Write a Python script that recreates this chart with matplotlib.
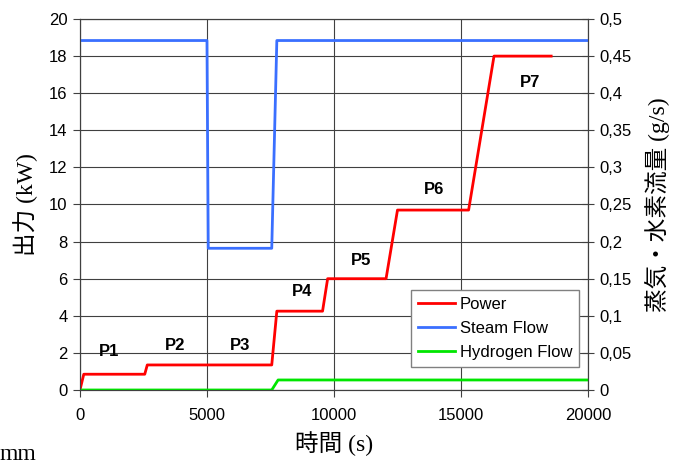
import numpy as np
import matplotlib
matplotlib.use("Agg")
import matplotlib.pyplot as plt

plt.rcParams["font.family"] = ["Liberation Sans", "Noto Sans CJK JP"]

# power (kW)
power_t = [0, 150, 2550, 2650, 7550, 7750, 9550, 9750, 12050, 12500, 15300, 16300, 18550]
power_kw = [0, 0.85, 0.85, 1.35, 1.35, 4.25, 4.25, 6.0, 6.0, 9.7, 9.7, 18.0, 18.0]

# steam flow (g/s)
steam_t = [0, 5000, 5050, 7550, 7750, 20000]
steam_gs = [0.471, 0.471, 0.191, 0.191, 0.471, 0.471]

# hydrogen flow (g/s)
h2_t = [0, 7550, 7800, 20000]
h2_gs = [0.0, 0.0, 0.0135, 0.0135]

phase_labels = ["P1", "P2", "P3", "P4", "P5", "P6", "P7"]
phase_x = [1150, 3750, 6300, 8750, 11050, 13950, 17700]
phase_y = [2.1, 2.4, 2.4, 5.3, 7.0, 10.8, 16.6]

right_ticks = [0, 0.05, 0.1, 0.15, 0.2, 0.25, 0.3, 0.35, 0.4, 0.45, 0.5]
right_ticklabels = ["0", "0,05", "0,1", "0,15", "0,2", "0,25", "0,3", "0,35", "0,4", "0,45", "0,5"]

fig = plt.figure(figsize=(6.8, 4.67), dpi=100)
ax = fig.add_axes([0.1176, 0.1649, 0.7471, 0.7944])
ax2 = ax.twinx()

ax.set_xlim(0, 20000)
ax.set_ylim(0, 20)
ax2.set_ylim(0, 0.5)
ax.set_xticks(np.arange(0, 20001, 5000))
ax.set_yticks(np.arange(0, 21, 2))
ax2.set_yticks(right_ticks)
ax2.set_yticklabels(right_ticklabels)

ax.grid(True, color="#404040", linewidth=0.8)
ax.set_axisbelow(True)

l1, = ax2.plot(np.array(power_t), np.array(power_kw) / 40.0, color="#ff0000", lw=2, label="Power")
l2, = ax2.plot(steam_t, steam_gs, color="#3a6fff", lw=2, label="Steam Flow")
l3, = ax2.plot(h2_t, h2_gs, color="#00e600", lw=2, label="Hydrogen Flow")

for lab, x, y in zip(phase_labels, phase_x, phase_y):
    ax.text(x, y, lab, fontsize=12, fontweight="bold", ha="center", va="center")

for a in (ax, ax2):
    for s in a.spines.values():
        s.set_color("#404040")
ax.tick_params(axis="both", labelsize=12, direction="out", length=5, color="#404040", pad=4)
ax2.tick_params(axis="y", labelsize=12, direction="inout", length=8, color="#404040", pad=4)
ax.tick_params(axis="x", pad=8)

serif = ["Liberation Serif", "Noto Sans CJK JP"]
ax.set_xlabel("時間 (s)", fontsize=17, family=serif, labelpad=6)
ax.set_ylabel("出力 (kW)", fontsize=17, family=serif, labelpad=8)
ax2.set_ylabel("蒸気・水素流量 (g/s)", fontsize=17, family=serif, labelpad=10)

leg = ax2.legend(handles=[l1, l2, l3], loc="lower right", bbox_to_anchor=(0.982, 0.062),
                 fontsize=12, fancybox=False, framealpha=1, edgecolor="#808080",
                 handlelength=2.2, borderpad=0.4, labelspacing=0.55, handletextpad=0.3,
                 borderaxespad=0)
leg.get_frame().set_linewidth(1.0)

fig.text(0.0, 0.005, "mm", fontsize=17, family=serif, ha="left", va="bottom")

fig.savefig("out.png", dpi=100)
